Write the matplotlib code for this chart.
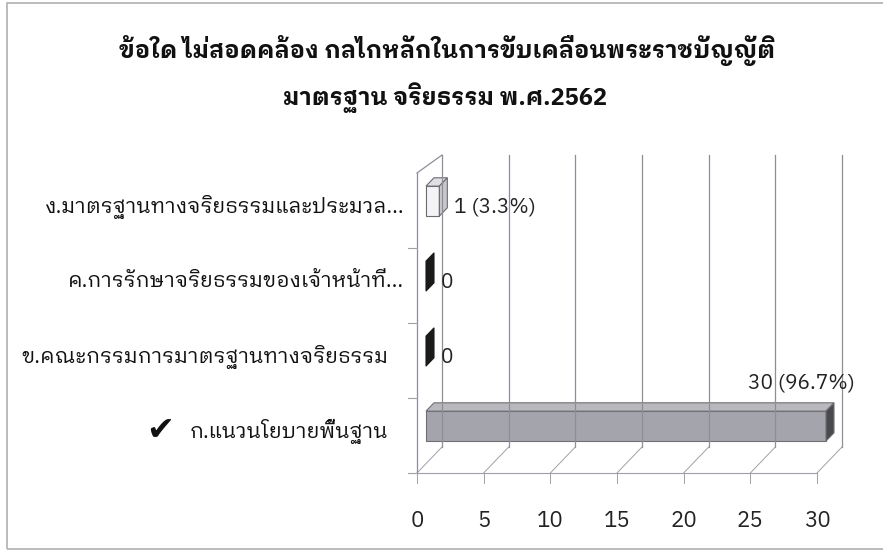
import matplotlib
matplotlib.use('Agg')
import matplotlib.pyplot as plt
from matplotlib.patches import Polygon, Rectangle
from matplotlib.lines import Line2D

# ---- data ----
title_lines = ["ข้อใด ไม่สอดคล้อง กลไกหลักในการขับเคลื่อนพระราชบัญญัติ",
               "มาตรฐาน จริยธรรม พ.ศ.2562"]
categories = ["ก.แนวนโยบายพื้นฐาน",
              "ข.คณะกรรมการมาตรฐานทางจริยธรรม",
              "ค.การรักษาจริยธรรมของเจ้าหน้าที่...",
              "ง.มาตรฐานทางจริยธรรมและประมวล..."]
counts = [30, 0, 0, 1]
percents = [96.7, None, None, 3.3]
correct_index = 0
xticks = [0, 5, 10, 15, 20, 25, 30]

FONT = ['IBM Plex Sans Thai Looped', 'Noto Sans Thai Looped', 'DejaVu Sans']
plt.rcParams['font.family'] = FONT

W, H = 883, 552
fig = plt.figure(figsize=(W / 100, H / 100), dpi=100)

def fx(px):
    return px / W

def fy(py):
    return 1 - py / H

# outer frame
fig.patches.append(Rectangle((fx(7), fy(549)), fx(900) - fx(7), fy(3) - fy(549),
                             transform=fig.transFigure, fill=False,
                             edgecolor='#b0b0b0', lw=1.2))

# title
fig.text(fx(447), fy(50), title_lines[0], ha='center', va='center',
         fontsize=17, fontweight='bold', color='#111111')
fig.text(fx(445), fy(98), title_lines[1], ha='center', va='center',
         fontsize=17, fontweight='bold', color='#111111')

# front plane axes
ax = fig.add_axes([fx(417), fy(473), fx(817) - fx(417), fy(173) - fy(473)])
ax.set_xlim(0, 30)
ax.set_ylim(-0.5, 3.5)
ax.axis('off')

DX = 1.875      # depth offset in value units
DY = 0.347      # depth offset in category units (floor)
DY_TOP = 0.24   # depth offset at top of walls
GRID = '#8e8e98'
LW = 0.9
ymin, ymax = -0.5, 3.5

def line(xs, ys, **kw):
    ax.add_line(Line2D(xs, ys, color=kw.pop('color', GRID), lw=kw.pop('lw', LW),
                       clip_on=False, **kw))

# back wall gridlines, floor diagonals, ticks and tick labels
for t in xticks:
    line([t + DX, t + DX], [ymin + DY, ymax + DY_TOP])
    line([t, t + DX], [ymin, ymin + DY], color='#a0a0a8', lw=0.7)
    line([t, t], [ymin, ymin - 0.13], color='#a0a0a8', lw=0.7)
    ax.text(t, ymin - 0.64, str(t), ha='center', va='center', fontsize=16,
            color='#222222')

# left wall
line([0, 0], [ymin, ymax])
line([0, DX], [ymax, ymax + DY_TOP])
line([0, 30], [ymin, ymin], color='#a0a0a8', lw=0.8)
line([-0.65, 0], [ymin, ymin], color='#a0a0a8', lw=0.8)
for b in [0.5, 1.5, 2.5]:
    line([-0.65, 0], [b, b], color='#a0a0a8', lw=0.8)

# bars
d0, dd, hh = 0.36, 0.32, 0.4
for i, v in enumerate(counts):
    x0 = DX * d0
    x1 = v + DX * d0
    yb = i + DY * d0 - hh / 2
    yt = yb + hh
    ox, oy = DX * dd, DY * dd
    if 0 < v < 5:
        fc_front, fc_top, fc_side, ec = '#f4f4f6', '#e0e0e4', '#c8c8cc', '#6a6a70'
    else:
        fc_front, fc_top, fc_side, ec = '#a4a4ac', '#b8b8be', '#4a4a4e', '#707074'
    if v > 0:
        ax.add_patch(Polygon([(x0, yb), (x1, yb), (x1, yt), (x0, yt)], closed=True,
                             facecolor=fc_front, edgecolor=ec, lw=0.8, clip_on=False))
        ax.add_patch(Polygon([(x0, yt), (x1, yt), (x1 + ox, yt + oy), (x0 + ox, yt + oy)],
                             closed=True, facecolor=fc_top, edgecolor=ec, lw=0.8,
                             clip_on=False))
        ax.add_patch(Polygon([(x1, yb), (x1 + ox, yb + oy), (x1 + ox, yt + oy), (x1, yt)],
                             closed=True, facecolor=fc_side, edgecolor=ec, lw=0.8,
                             clip_on=False))
    else:
        ax.add_patch(Polygon([(x1, yb), (x1 + ox, yb + oy), (x1 + ox, yt + oy), (x1, yt)],
                             closed=True, facecolor='#1a1a1a', edgecolor='#1a1a1a',
                             lw=0.8, clip_on=False))
    lab = str(v) if percents[i] is None else f"{v} ({percents[i]}%)"
    if v >= 25:
        ax.text(v + DX * (d0 + dd) + 1.6, i + 0.7, lab, ha='right', va='center',
                fontsize=15, color='#222222')
    else:
        ax.text(v + DX * (d0 + dd) + 0.5, i + 0.04, lab, ha='left', va='center',
                fontsize=15, color='#222222')

# category labels (truncated labels sit slightly further right, as in the reference)
for i, c in enumerate(categories):
    xr = -1.0 if c.endswith('...') else -2.15
    ax.text(xr, i + 0.05, c, ha='right', va='center', fontsize=15, color='#111111')
ax.text(-19.3, correct_index + 0.07, '\u2714', ha='center', va='center', fontsize=24,
        color='#111111', family='DejaVu Sans')

fig.savefig('out.png', dpi=100)
